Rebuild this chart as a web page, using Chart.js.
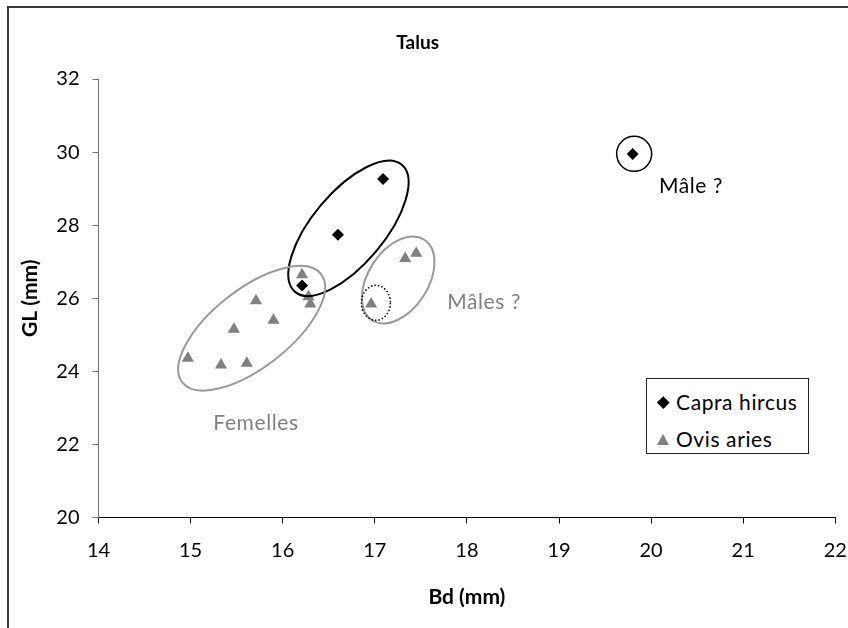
<!DOCTYPE html>
<html>
<head>
<meta charset="utf-8">
<script src="https://cdn.jsdelivr.net/npm/chart.js@4.4.1/dist/chart.umd.min.js"></script>
<style>
html,body{margin:0;padding:0;background:#fff;overflow:hidden;}
#wrap{position:relative;width:848px;height:628px;}
#legend{position:absolute;left:646px;top:378px;width:163px;height:76px;border:1px solid #222;background:#fff;box-sizing:border-box;font-family:Lato,sans-serif;font-size:21px;letter-spacing:0.6px;color:#000;}
.item{position:absolute;left:29px;height:26px;line-height:26px;white-space:nowrap;}
.diamond{position:absolute;left:11.5px;top:19px;width:8.5px;height:8.5px;background:#000;transform:rotate(45deg);}
.tri{position:absolute;left:10px;top:55px;width:0;height:0;border-left:6px solid transparent;border-right:6px solid transparent;border-bottom:11px solid #808080;}
</style>
</head>
<body>
<div id="wrap">
<canvas id="c" width="848" height="628"></canvas>
<div id="legend">
  <div class="diamond"></div><div class="item" id="l0" style="top:10px"></div>
  <div class="tri"></div><div class="item" id="l1" style="top:47px"></div>
</div>
</div>
<script>
// ---- data ----
const chartTitle = 'Talus';
const xTitle = 'Bd (mm)';
const yTitle = 'GL (mm)';
const seriesNames = ['Capra hircus', 'Ovis aries'];
const capraBd = [17.09, 16.60, 16.21, 19.80];
const capraGL = [29.26, 27.74, 26.35, 29.95];
const ovisBd = [16.21, 16.28, 16.30, 15.71, 15.90, 15.47, 14.97, 15.33, 15.61, 16.96, 17.33, 17.45];
const ovisGL = [26.64, 26.04, 25.84, 25.93, 25.40, 25.15, 24.36, 24.17, 24.22, 25.84, 27.09, 27.23];
const xTicks = [14, 15, 16, 17, 18, 19, 20, 21, 22];
const yTicks = [20, 22, 24, 26, 28, 30, 32];
const noteTexts = ['Mâle ?', 'Mâles ?', 'Femelles'];

// ---- annotation layout (drawn through the scales) ----
const shapes = [
  {x: 16.714, y: 27.914, rx: 83, ry: 36, rot: -50, color: '#000', width: 2, dash: []},
  {x: 15.663, y: 25.18, rx: 88, ry: 39, rot: -38, color: '#999', width: 2, dash: []},
  {x: 17.254, y: 26.50, rx: 48, ry: 30, rot: -57, color: '#999', width: 2, dash: []},
  {x: 17.012, y: 25.875, rx: 14.5, ry: 17.5, rot: 0, color: '#000', width: 1.5, dash: [1.5, 2]},
  {x: 19.816, y: 29.953, rx: 17.5, ry: 17.5, rot: 0, color: '#000', width: 1.5, dash: []}
];
const notePos = [
  {x: 20.433, y: 29.07, color: '#000'},
  {x: 18.186, y: 25.897, color: '#808080'},
  {x: 15.71, y: 22.586, color: '#808080'}
];

const FONT = 'Lato, "Open Sans", sans-serif';

document.getElementById('l0').textContent = seriesNames[0];
document.getElementById('l1').textContent = seriesNames[1];

const decor = {
  id: 'decor',
  beforeDraw(chart) {
    const ctx = chart.ctx;
    ctx.save();
    ctx.fillStyle = '#fff';
    ctx.fillRect(0, 0, chart.width, chart.height);
    ctx.strokeStyle = '#3a3a3a';
    ctx.lineWidth = 2;
    ctx.strokeRect(8, 7, 1000, 1000);
    ctx.restore();
  },
  afterDatasetsDraw(chart) {
    const ctx = chart.ctx;
    const xs = chart.scales.x, ys = chart.scales.y;
    ctx.save();
    shapes.forEach(s => {
      const px = xs.getPixelForValue(s.x), py = ys.getPixelForValue(s.y);
      ctx.beginPath();
      ctx.ellipse(px, py, s.rx, s.ry, s.rot * Math.PI / 180, 0, Math.PI * 2);
      ctx.strokeStyle = s.color;
      ctx.lineWidth = s.width;
      ctx.setLineDash(s.dash);
      ctx.stroke();
    });
    ctx.setLineDash([]);
    ctx.font = '21px ' + FONT;
    if ('letterSpacing' in ctx) ctx.letterSpacing = '0.6px';
    ctx.textAlign = 'center';
    ctx.textBaseline = 'middle';
    noteTexts.forEach((t, i) => {
      const p = notePos[i];
      ctx.fillStyle = p.color;
      ctx.fillText(t, xs.getPixelForValue(p.x), ys.getPixelForValue(p.y));
    });
    if ('letterSpacing' in ctx) ctx.letterSpacing = '0px';
    ctx.restore();
  }
};

const toPts = (xa, ya) => xa.map((v, i) => ({x: v, y: ya[i]}));

new Chart(document.getElementById('c'), {
  type: 'scatter',
  data: {
    datasets: [
      {label: seriesNames[0], data: toPts(capraBd, capraGL), pointStyle: 'rectRot', pointRadius: 6, pointHoverRadius: 6,
       backgroundColor: '#000', borderColor: '#000', borderWidth: 0},
      {label: seriesNames[1], data: toPts(ovisBd, ovisGL), pointStyle: 'triangle', pointRadius: 7, pointHoverRadius: 7,
       backgroundColor: '#808080', borderColor: '#808080', borderWidth: 0}
    ]
  },
  options: {
    responsive: false,
    animation: false,
    devicePixelRatio: 1,
    layout: {padding: {left: 0, right: 12.7, top: 0, bottom: 0}},
    plugins: {
      legend: {display: false},
      tooltip: {enabled: false},
      title: {display: true, text: chartTitle, color: '#000',
              font: {family: FONT, size: 19, weight: 'bold', lineHeight: 1.2},
              padding: {top: 31.6, bottom: 24.6}}
    },
    scales: {
      x: {
        type: 'linear', min: 14, max: 22,
        afterBuildTicks: s => { s.ticks = xTicks.map(v => ({value: v})); },
        afterFit: s => { s.height = 110.5; s.paddingLeft = 0; s.paddingRight = 0; },
        ticks: {color: '#000', font: {family: FONT, size: 20}, padding: 15.5},
        grid: {display: true, drawOnChartArea: false, drawTicks: true, tickLength: 6, color: '#000'},
        border: {display: true, color: '#000', width: 1},
        title: {display: true, text: xTitle, color: '#000', font: {family: FONT, size: 21, weight: 'bold', lineHeight: 1.2}, padding: {top: 0, bottom: 18.4}}
      },
      y: {
        type: 'linear', min: 20, max: 32,
        afterBuildTicks: s => { s.ticks = yTicks.map(v => ({value: v})); },
        afterFit: s => { s.width = 98.5; },
        ticks: {color: '#000', font: {family: FONT, size: 20}, padding: 13},
        grid: {display: true, drawOnChartArea: false, drawTicks: true, tickLength: 6, color: '#707070'},
        border: {display: true, color: '#707070', width: 1},
        title: {display: true, text: yTitle, color: '#000', font: {family: FONT, size: 21, weight: 'bold', lineHeight: 1.2}, padding: {top: 17.4, bottom: 0}}
      }
    }
  },
  plugins: [decor]
});
</script>
</body>
</html>
